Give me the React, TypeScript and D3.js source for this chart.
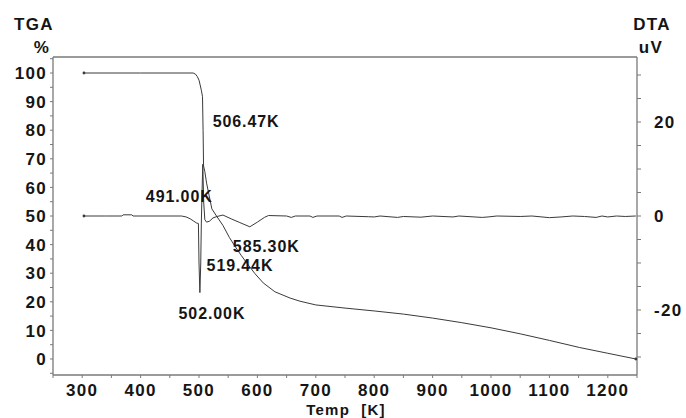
import React from "react";
import * as d3 from "d3";

// ---- data ----
const tgaTemp = [303, 400, 490, 494, 497, 500, 502, 504, 506, 507, 507.8, 510, 513, 516, 522, 530, 541, 552, 562, 572, 582, 596, 610, 630, 656, 673, 700, 750, 800, 850, 900, 950, 1000, 1050, 1100, 1152, 1200, 1248];
const tgaValue = [100, 100, 100, 99.6, 98.8, 97.5, 95.8, 94, 91.7, 80, 67.5, 65.5, 61.5, 58.5, 52.5, 50, 46.7, 42.5, 39.3, 36.3, 33.5, 29.8, 26.6, 23.5, 21.3, 20.2, 18.9, 17.8, 16.8, 15.7, 14.3, 12.7, 10.9, 8.8, 6.5, 4.0, 2.0, 0];

const dtaTemp = [303, 340, 368, 370, 385, 387, 470, 478, 485, 491, 496, 499, 500, 501.5, 503, 504, 505, 506.5, 508, 510, 513, 518, 524, 531, 541, 555, 570, 587, 600, 612, 619, 650, 658, 665, 690, 695, 702, 740, 745, 752, 790, 800, 810, 840, 850, 880, 900, 935, 945, 985, 995, 1010, 1050, 1070, 1100, 1120, 1140, 1160, 1180, 1190, 1200, 1215, 1230, 1248];
const dtaValue = [0, 0, 0, 0.25, 0.25, 0, 0, -0.2, -0.6, -1.1, -1.5, -1.6, -10, -16.3, -10, -1.5, 4, 11, 3, -0.8, -1.3, -1.1, -0.4, -0.1, 0.2, -0.6, -1.4, -2.3, -1.3, -0.3, 0.1, 0, -0.3, 0, 0, -0.3, 0, 0, -0.3, 0, -0.15, -0.2, 0, -0.3, -0.1, -0.25, 0, -0.2, 0, -0.3, -0.2, 0, -0.1, 0, -0.35, -0.2, 0, -0.1, -0.3, 0, -0.2, 0, -0.1, 0];

const xTicks = [300, 400, 500, 600, 700, 800, 900, 1000, 1100, 1200];
const tgaTicks = [0, 10, 20, 30, 40, 50, 60, 70, 80, 90, 100];
const dtaTicks = [-20, 0, 20];

// annotation labels, anchored in data coordinates (temperature, DTA value)
const annotText = ["506.47K", "491.00K", "585.30K", "519.44K", "502.00K"];
const annotTemp = [523.5, 409, 558, 513, 465];
const annotDta = [18.9, 3.0, -7.6, -11.6, -21.9];

const W = 686;
const H = 418;
const M = { left: 53, right: 637, top: 57, bottom: 375 };

export default function App() {
  const x = d3.scaleLinear().domain([250, 1250]).range([M.left, M.right]);
  const yT = d3.scaleLinear().domain([-5.6, 105.6]).range([M.bottom, M.top]);
  const yD = d3.scaleLinear().domain([-33.83, 33.83]).range([M.bottom, M.top]);

  const tgaPts: [number, number][] = tgaTemp.map((t, i) => [t, tgaValue[i]]);
  const dtaPts: [number, number][] = dtaTemp.map((t, i) => [t, dtaValue[i]]);

  const tgaLine = d3.line<[number, number]>().x((d) => x(d[0])).y((d) => yT(d[1]))(tgaPts) || "";
  const dtaLine = d3.line<[number, number]>().x((d) => x(d[0])).y((d) => yD(d[1]))(dtaPts) || "";

  const font = "'Liberation Sans', Arial, Helvetica, sans-serif";
  const axisColor = "#7a7a7a";
  const textColor = "#151515";
  const lineColor = "#3a3a3a";

  const xMinor = d3.range(250, 1251, 50);
  const tMinor = d3.range(-5, 106, 5);
  const dMinor = d3.range(-30, 31, 5);

  const tickStyle = {
    fontFamily: font,
    fontWeight: 700,
    fontSize: 17,
    letterSpacing: 1.3,
    fill: textColor,
  } as const;

  return (
    <div style={{ position: "absolute", left: 0, top: 0, width: W, height: H, background: "#fff" }}>
      <svg width={W} height={H} viewBox={`0 0 ${W} ${H}`} style={{ display: "block" }}>
        <rect x={0} y={0} width={W} height={H} fill="#fff" />

        {/* frame */}
        <line x1={M.left} x2={M.right} y1={M.top} y2={M.top} stroke={axisColor} strokeWidth={1.3} />
        <line x1={M.left} x2={M.right} y1={M.bottom} y2={M.bottom} stroke={axisColor} strokeWidth={1.3} />
        <line x1={M.left} x2={M.left} y1={M.top} y2={M.bottom} stroke={axisColor} strokeWidth={1.3} />
        <line x1={M.right} x2={M.right} y1={M.top} y2={M.bottom} stroke={axisColor} strokeWidth={1.3} />

        {/* bottom ticks */}
        {xMinor.map((v) => (
          <line key={"xm" + v} x1={x(v)} x2={x(v)} y1={M.bottom} y2={M.bottom + 3} stroke={axisColor} strokeWidth={1} />
        ))}
        {xTicks.map((v) => (
          <text key={"xl" + v} x={x(v)} y={396} textAnchor="middle" style={tickStyle}>
            {v}
          </text>
        ))}

        {/* left ticks */}
        {tMinor.map((v) => (
          <line key={"tm" + v} x1={M.left - 3} x2={M.left} y1={yT(v)} y2={yT(v)} stroke={axisColor} strokeWidth={1} />
        ))}
        {tgaTicks.map((v) => (
          <text key={"tl" + v} x={47} y={yT(v) + 6.2} textAnchor="end" style={tickStyle}>
            {v}
          </text>
        ))}

        {/* right ticks */}
        {dMinor.map((v) => (
          <line key={"dm" + v} x1={M.right} x2={M.right + 4} y1={yD(v)} y2={yD(v)} stroke={axisColor} strokeWidth={1} />
        ))}
        {dtaTicks.map((v) => (
          <text key={"dl" + v} x={654} y={yD(v) + 6.2} textAnchor="start" style={tickStyle}>
            {v}
          </text>
        ))}

        {/* axis titles */}
        <text x={34} y={30} textAnchor="middle" style={tickStyle}>TGA</text>
        <text x={42} y={53} textAnchor="middle" style={tickStyle}>%</text>
        <text x={652} y={30} textAnchor="middle" style={tickStyle}>DTA</text>
        <text x={651} y={53} textAnchor="middle" style={tickStyle}>uV</text>
        <text x={346} y={415} textAnchor="middle" style={{ ...tickStyle, fontSize: 15, whiteSpace: "pre" }} xmlSpace="preserve">
          {"Temp  [K]"}
        </text>

        {/* curves */}
        <path d={dtaLine} fill="none" stroke={lineColor} strokeWidth={1} />
        <path d={tgaLine} fill="none" stroke={lineColor} strokeWidth={1} />
        <circle cx={x(tgaTemp[0])} cy={yT(tgaValue[0])} r={1.4} fill={lineColor} />
        <circle cx={x(dtaTemp[0])} cy={yD(dtaValue[0])} r={1.4} fill={lineColor} />
        <circle cx={x(tgaTemp[tgaTemp.length - 1])} cy={yT(tgaValue[tgaValue.length - 1])} r={1.4} fill={lineColor} />

        {/* annotations */}
        {annotText.map((s, i) => (
          <text
            key={"a" + i}
            x={x(annotTemp[i])}
            y={yD(annotDta[i])}
            style={{ ...tickStyle, fontSize: 16, letterSpacing: 0.9 }}
          >
            {s}
          </text>
        ))}
      </svg>
    </div>
  );
}
